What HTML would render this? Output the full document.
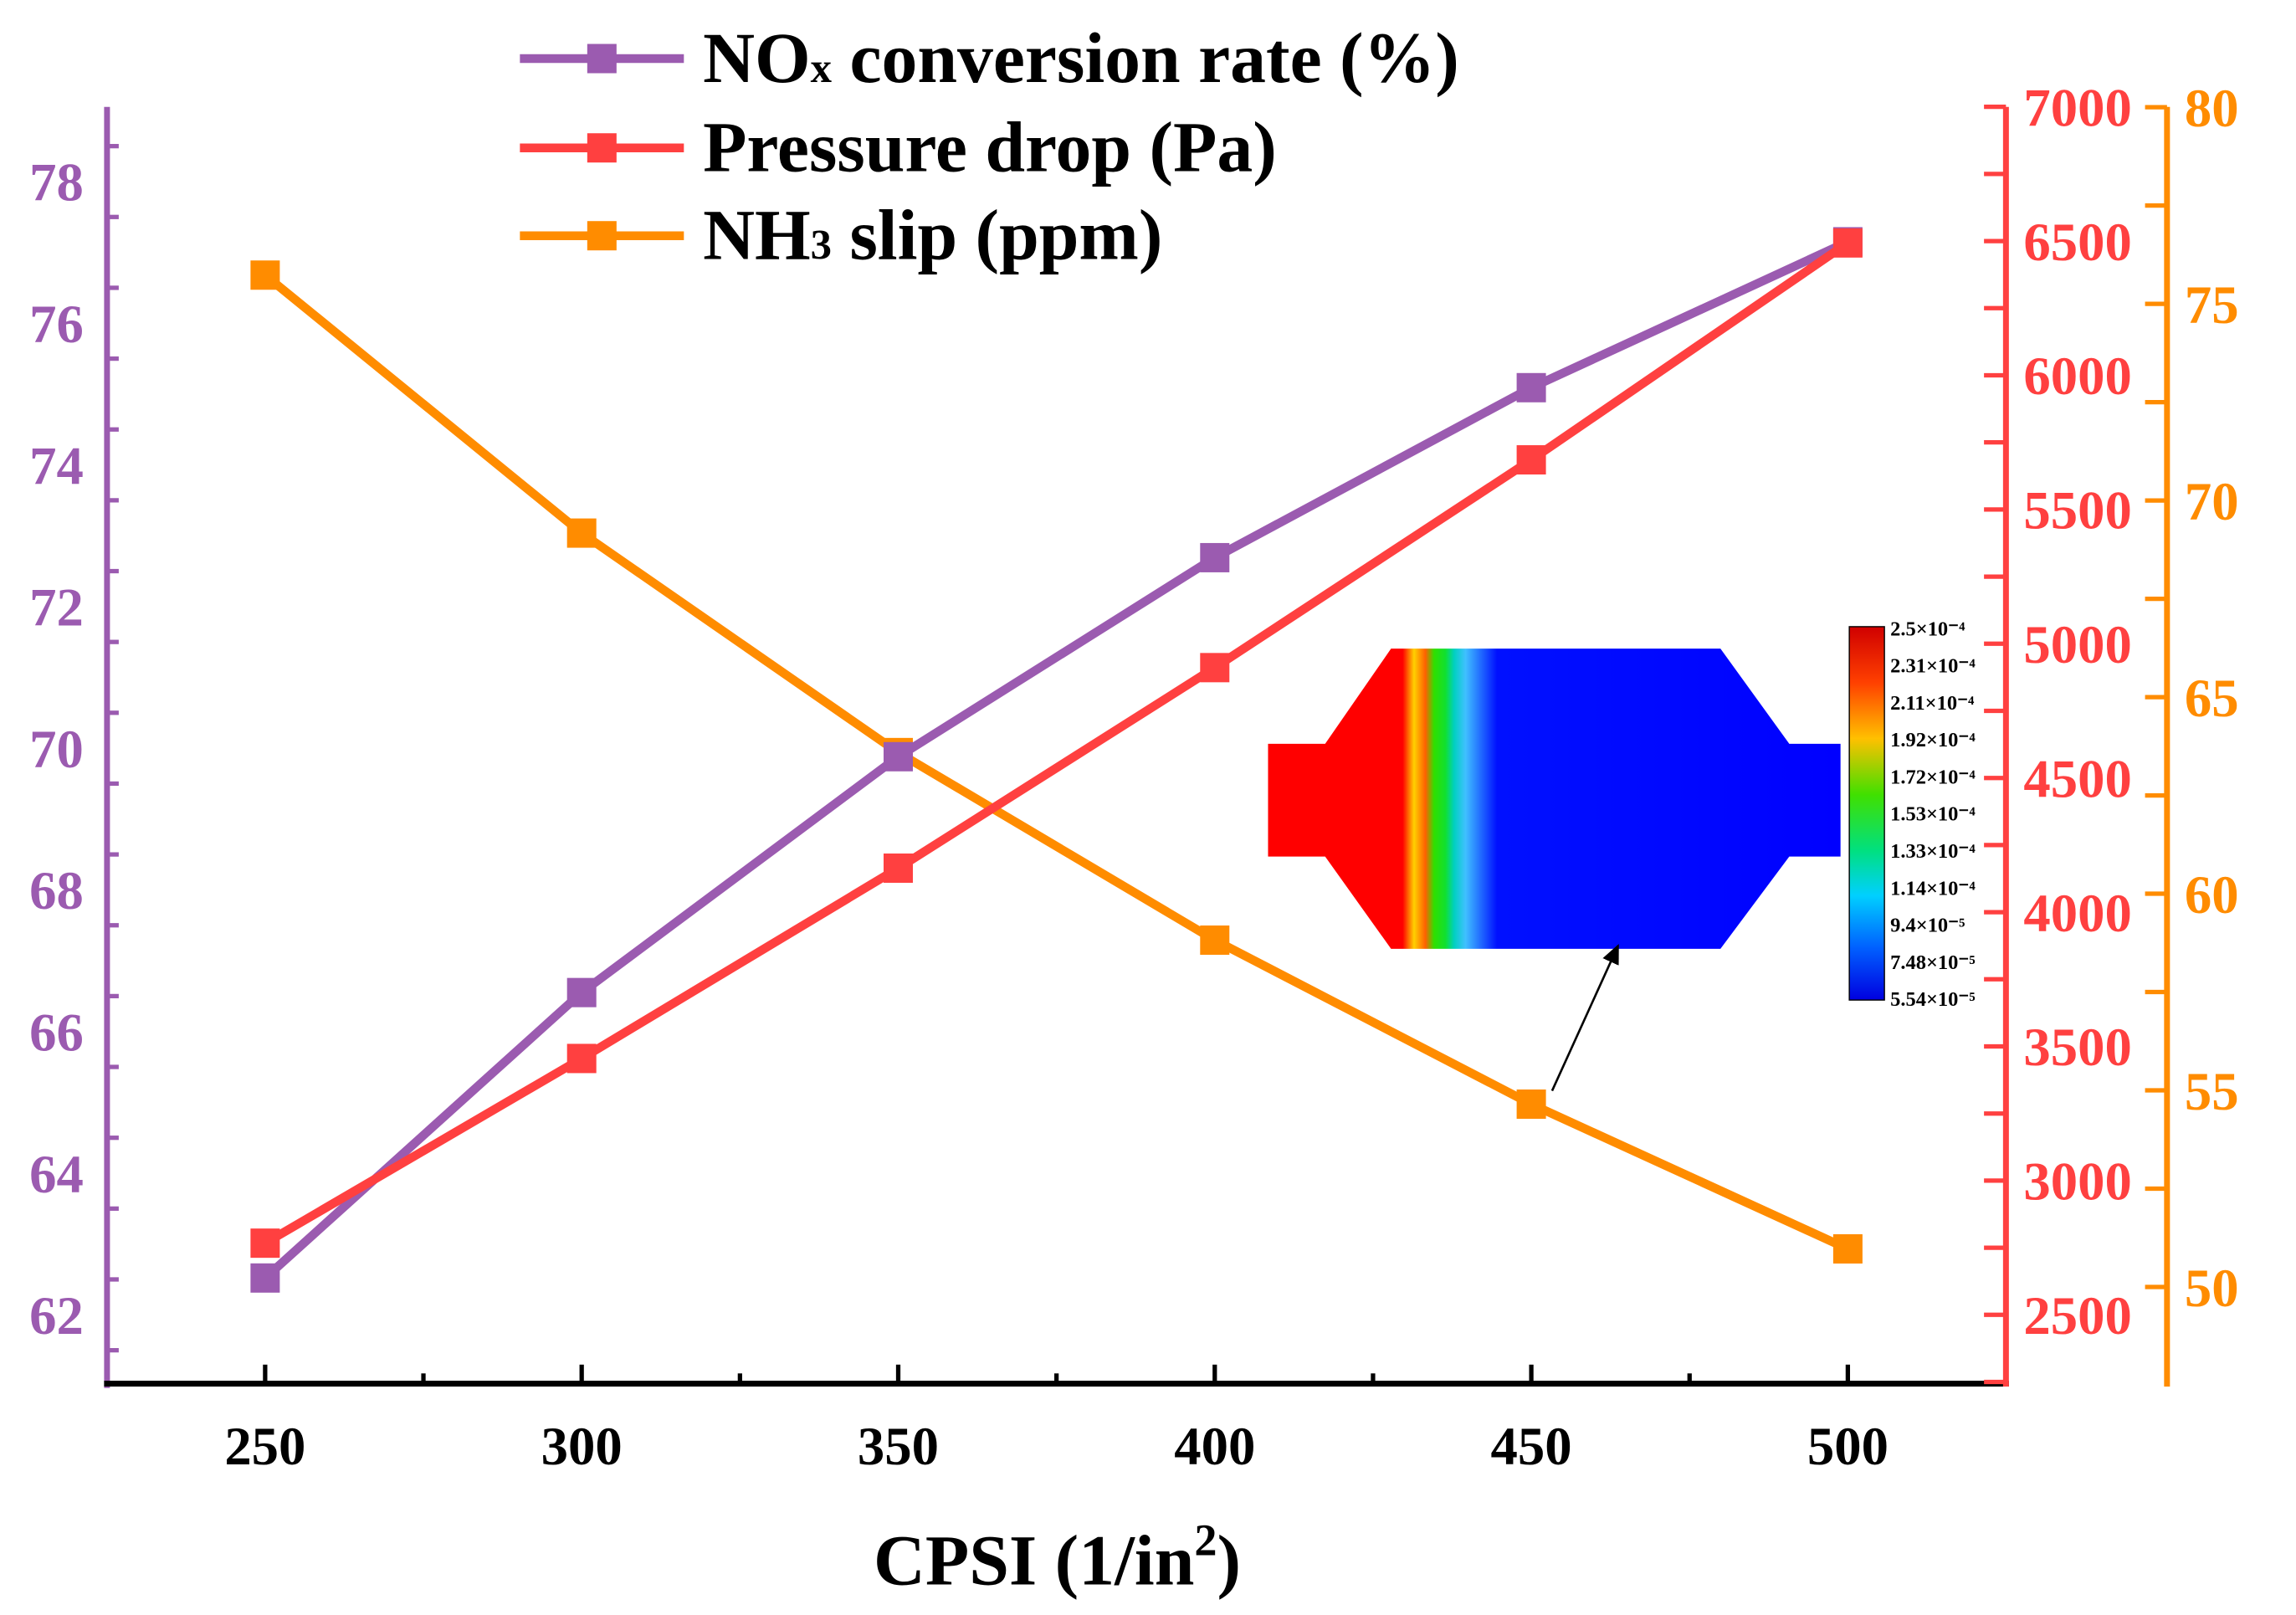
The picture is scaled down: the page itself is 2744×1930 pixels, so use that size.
<!DOCTYPE html>
<html><head><meta charset="utf-8"><style>
html,body{margin:0;padding:0;background:#fff;}
svg{display:block;}
text{font-family:"Liberation Serif",serif;font-weight:bold;}
</style></head><body>
<svg id="chart" width="2744" height="1930" viewBox="0 0 1568 1103" xmlns="http://www.w3.org/2000/svg">
<defs>
<linearGradient id="cfd" x1="866" x2="1257" y1="0" y2="0" gradientUnits="userSpaceOnUse">
<stop offset="0" stop-color="#ff0000"/><stop offset="0.235" stop-color="#ff0000"/>
<stop offset="0.255" stop-color="#ffd000"/><stop offset="0.275" stop-color="#ff6000"/>
<stop offset="0.29" stop-color="#30e000"/><stop offset="0.31" stop-color="#10e030"/>
<stop offset="0.325" stop-color="#00d0c0"/><stop offset="0.345" stop-color="#40c0ff"/>
<stop offset="0.40" stop-color="#0010ff"/><stop offset="1" stop-color="#0000ff"/>
</linearGradient>
<linearGradient id="cbar" x1="0" x2="0" y1="0" y2="1">
<stop offset="0" stop-color="#d00000"/><stop offset="0.15" stop-color="#ff4000"/>
<stop offset="0.3" stop-color="#ffc000"/><stop offset="0.45" stop-color="#40e000"/>
<stop offset="0.6" stop-color="#00e080"/><stop offset="0.72" stop-color="#00d0ff"/>
<stop offset="0.86" stop-color="#0060ff"/><stop offset="1" stop-color="#0000e0"/>
</linearGradient>
<marker id="ah" markerWidth="10" markerHeight="10" refX="8" refY="5" orient="auto"><path d="M0,1 L9,5 L0,9 Z" fill="#000"/></marker>
</defs>
<g id="axes"></g>
<g id="series"></g>
<g id="inset">
<path d="M866,508 L905,508 L950,443 L1175,443 L1222,508 L1257,508 L1257,585 L1222,585 L1175,648 L950,648 L905,585 L866,585 Z" fill="url(#cfd)"/>
<rect x="1263" y="428" width="24" height="255" fill="url(#cbar)" stroke="#000" stroke-width="0.8"/>
<g font-size="14" fill="#000" id="cblabels"></g>
<line x1="1060" y1="745" x2="1105" y2="646" stroke="#000" stroke-width="1.5" marker-end="url(#ah)"/>
</g>
<g id="legend"></g>
</svg>
<script>
const categories=[250,300,350,400,450,500];
const noxValues=[62.52,66.55,69.88,72.69,75.09,77.15];
const pressureValues=[2767,3455,4164,4911,5685,6493];
const nh3Values=[75.73,69.17,63.59,58.82,54.65,50.97];
const leftTicks=[62,64,66,68,70,72,74,76,78];
const redTicks=[2500,3000,3500,4000,4500,5000,5500,6000,6500,7000];
const orangeTicks=[50,55,60,65,70,75,80];
const cbLabels=["2.5×10⁻⁴","2.31×10⁻⁴","2.11×10⁻⁴","1.92×10⁻⁴","1.72×10⁻⁴","1.53×10⁻⁴","1.33×10⁻⁴","1.14×10⁻⁴","9.4×10⁻⁵","7.48×10⁻⁵","5.54×10⁻⁵"];

const NS="http://www.w3.org/2000/svg";
const PUR="#9b5bb0",RED="#ff4040",ORG="#ff8c00";
const FS=37;
const xS=v=>181+(v-250)*216.2/50;
const yL=v=>898-(v-62)*48.375;
const yR=v=>898-(v-2500)*91.67/500;
const yO=v=>879-(v-50)*134.3/5;
function mk(tag,attrs,parent,txt){const e=document.createElementNS(NS,tag);for(const k in attrs)e.setAttribute(k,attrs[k]);if(txt!==undefined)e.textContent=txt;parent.appendChild(e);return e;}
const ax=document.getElementById('axes');
let e=mk('line',{x1:73,y1:73,x2:73,y2:948,stroke:PUR,'stroke-width':4},ax);


for(let v=61.5;v<=79;v+=1){const y=yL(v);if(y<73||y>945)continue;const major=leftTicks.includes(v);
mk('line',{x1:73,y1:y,x2:major?88:81,y2:y,stroke:PUR,'stroke-width':3},ax);}
leftTicks.forEach(v=>{const t=mk('text',{x:57,y:yL(v)+13,'text-anchor':'end','font-size':FS,fill:PUR},ax,v);

});
e=mk('line',{x1:71,y1:945,x2:1372,y2:945,stroke:'#000','stroke-width':4},ax);


for(let v=250;v<=500;v+=25){const x=xS(v);mk('line',{x1:x,y1:945,x2:x,y2:v%50===0?932:938,stroke:'#000','stroke-width':3},ax);}
categories.forEach(v=>{const t=mk('text',{x:xS(v),y:1000,'text-anchor':'middle','font-size':FS,fill:'#000'},ax,v);

});
e=mk('text',{x:722,y:1082,'text-anchor':'middle','font-size':49,fill:'#000'},ax);
e.innerHTML='CPSI (1/in<tspan font-size="31" dy="-20">2</tspan><tspan dy="20">)</tspan>';


e=mk('line',{x1:1370,y1:73,x2:1370,y2:947,stroke:RED,'stroke-width':4},ax);


for(let v=2250;v<=7000;v+=250){const y=yR(v);if(y>945)continue;mk('line',{x1:1370,y1:y,x2:1355,y2:y,stroke:RED,'stroke-width':3},ax);}
redTicks.forEach(v=>{const t=mk('text',{x:1382,y:yR(v)+13,'font-size':FS,fill:RED},ax,v);

});
e=mk('line',{x1:1480,y1:73,x2:1480,y2:947,stroke:ORG,'stroke-width':4},ax);


for(let v=47.5;v<=80;v+=2.5){const y=yO(v);if(y>945)continue;mk('line',{x1:1480,y1:y,x2:1465,y2:y,stroke:ORG,'stroke-width':3},ax);}
orangeTicks.forEach(v=>{const t=mk('text',{x:1492,y:yO(v)+13,'font-size':FS,fill:ORG},ax,v);

});
const sg=document.getElementById('series');
function series(vals,yf,col,name){
 const pts=vals.map((v,i)=>xS(categories[i])+','+yf(v)).join(' ');
 const l=mk('polyline',{points:pts,fill:'none',stroke:col,'stroke-width':6},sg);
 
 
 vals.forEach((v,i)=>{const r=mk('rect',{x:xS(categories[i])-10,y:yf(v)-10,width:20,height:20,fill:col},sg);
 
 });
}
series(nh3Values,yO,ORG,'nh3-slip');
series(noxValues,yL,PUR,'nox-conversion');
series(pressureValues,yR,RED,'pressure-drop');
const cb=document.getElementById('cblabels');
cbLabels.forEach((s,i)=>{const t=mk('text',{x:1291,y:434+i*25.3,'font-weight':'normal'},cb,s);

});
const lg=document.getElementById('legend');
const leg=[[PUR,'NO<tspan font-size="29">x</tspan> conversion rate (%)',40],[RED,'Pressure drop (Pa)',101],[ORG,'NH<tspan font-size="29">3</tspan> slip (ppm)',161]];
leg.forEach(([c,h,y])=>{
 const g=mk('g',{},lg);
 
 
 mk('line',{x1:355,y1:y,x2:467,y2:y,stroke:c,'stroke-width':6},g);
 mk('rect',{x:401,y:y-10,width:20,height:20,fill:c},g);
 const t=mk('text',{x:480,y:y+16,'font-size':49,fill:'#000'},g);t.innerHTML=h;});
</script>
</body></html>
